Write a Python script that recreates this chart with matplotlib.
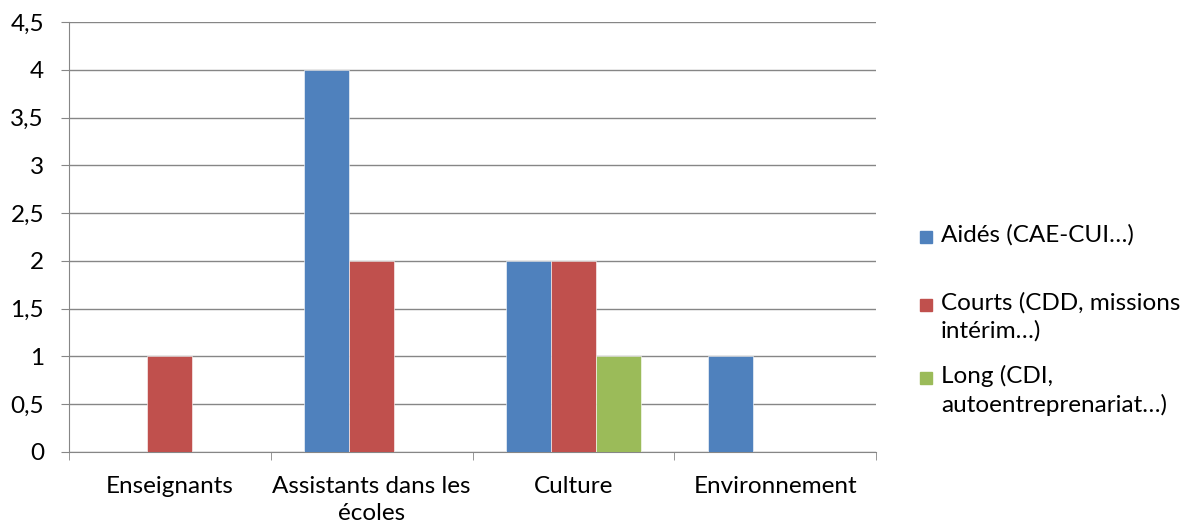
import numpy as np
import matplotlib.pyplot as plt
from matplotlib.patches import Rectangle

plt.rcParams['font.family'] = ['Lato', 'DejaVu Sans']

categories = ['Enseignants', 'Assistants dans les\nécoles', 'Culture', 'Environnement']
series = ['Aidés (CAE-CUI…)', 'Courts (CDD, missions\nintérim…)', 'Long (CDI,\nautoentreprenariat…)']
aides = [0, 4, 2, 1]
courts = [1, 2, 2, 0]
longs = [0, 0, 1, 0]
colors = ['#4F81BD', '#C0504D', '#9BBB59']
yticks = [0, 0.5, 1, 1.5, 2, 2.5, 3, 3.5, 4, 4.5]
ytick_labels = ['0', '0,5', '1', '1,5', '2', '2,5', '3', '3,5', '4', '4,5']

fs = 17.5

fig = plt.figure(figsize=(11.8, 5.26), dpi=100)
ax = fig.add_axes([69 / 1180, 74 / 526, 807 / 1180, 430 / 526])

x = np.arange(len(categories))
w = 0.223
for i, (vals, c) in enumerate(zip([aides, courts, longs], colors)):
    ax.bar(x + (i - 1) * w, vals, width=w, color=c, edgecolor='white', linewidth=0.4, zorder=3)

ax.set_xlim(-0.5, len(categories) - 0.5)
ax.set_ylim(0, 4.5)
ax.set_yticks(yticks)
ax.set_yticklabels(ytick_labels, fontsize=fs)
ax.yaxis.grid(True, color='#868686', linewidth=1)
ax.set_axisbelow(True)

ax.set_xticks(x)
ax.set_xticklabels(categories, fontsize=fs, linespacing=1.35)
ax.set_xticks(np.arange(len(categories) + 1) - 0.5, minor=True)
ax.tick_params(axis='x', which='major', length=0, pad=17)
ax.tick_params(axis='x', which='minor', length=6, color='#868686')
ax.tick_params(axis='y', length=6, color='#868686', pad=12)

for s in ['top', 'right']:
    ax.spines[s].set_visible(False)
for s in ['left', 'bottom']:
    ax.spines[s].set_color('#868686')

# legend drawn by hand so the square sits on the first line
leg_y = [237, 305, 378]
for name, c, y in zip(series, colors, leg_y):
    fig.patches.append(Rectangle((920 / 1180, 1 - (y + 6) / 526), 12 / 1180, 12 / 526,
                                 transform=fig.transFigure, color=c))
    fig.text(941 / 1180, 1 - (y - 13) / 526, name, fontsize=fs, va='top', ha='left',
             linespacing=1.35)

fig.savefig('out.png', dpi=100)
